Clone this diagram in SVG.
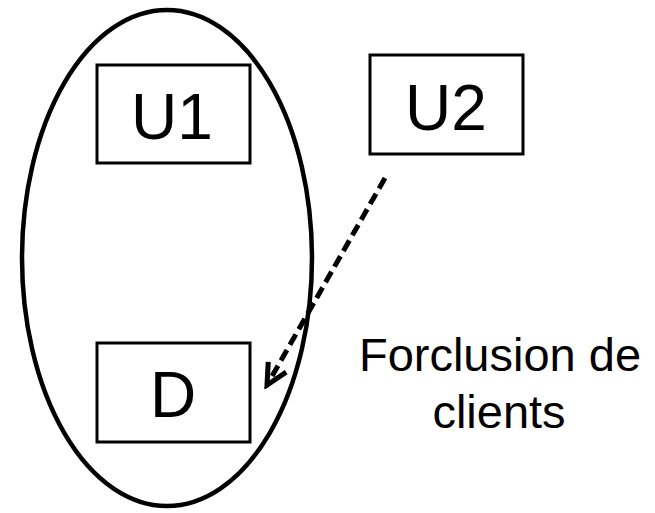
<svg xmlns="http://www.w3.org/2000/svg" width="655" height="513" viewBox="0 0 655 513">
<style>
.box{fill:#fff;stroke:#000;stroke-width:3}
.lbl{font-family:"Liberation Sans",Arial,sans-serif;fill:#000;text-anchor:middle}
</style>
<defs>
<marker id="arr" viewBox="0 0 12 12" refX="10" refY="6" markerWidth="5.5" markerHeight="5.5" orient="auto" markerUnits="strokeWidth">
<path d="M1,1.5 L10,6 L1,10.5" fill="none" stroke="#000" stroke-width="2.2"/>
</marker>
</defs>
<rect width="655" height="513" fill="#fff"/>
<g id="ellipse"><ellipse cx="167" cy="258" rx="145" ry="248" fill="none" stroke="#000" stroke-width="4.5"/></g>
<g id="U1"><rect class="box" x="97" y="65" width="153" height="98"/><text class="lbl" x="172" y="139" font-size="64">U1</text></g>
<g id="U2"><rect class="box" x="370" y="55" width="153" height="99"/><text class="lbl" x="446" y="130" font-size="64">U2</text></g>
<g id="D"><rect class="box" x="97" y="343" width="153" height="99"/><text class="lbl" x="173" y="417" font-size="64">D</text></g>
<g id="connectors">
<line x1="385" y1="178" x2="267" y2="385" stroke="#000" stroke-width="5" stroke-dasharray="12,6" marker-end="url(#arr)"/>
</g>
<g id="label"><text class="lbl" x="500" y="371" font-size="47">Forclusion de</text><text class="lbl" x="499" y="428" font-size="47">clients</text></g>
</svg>
